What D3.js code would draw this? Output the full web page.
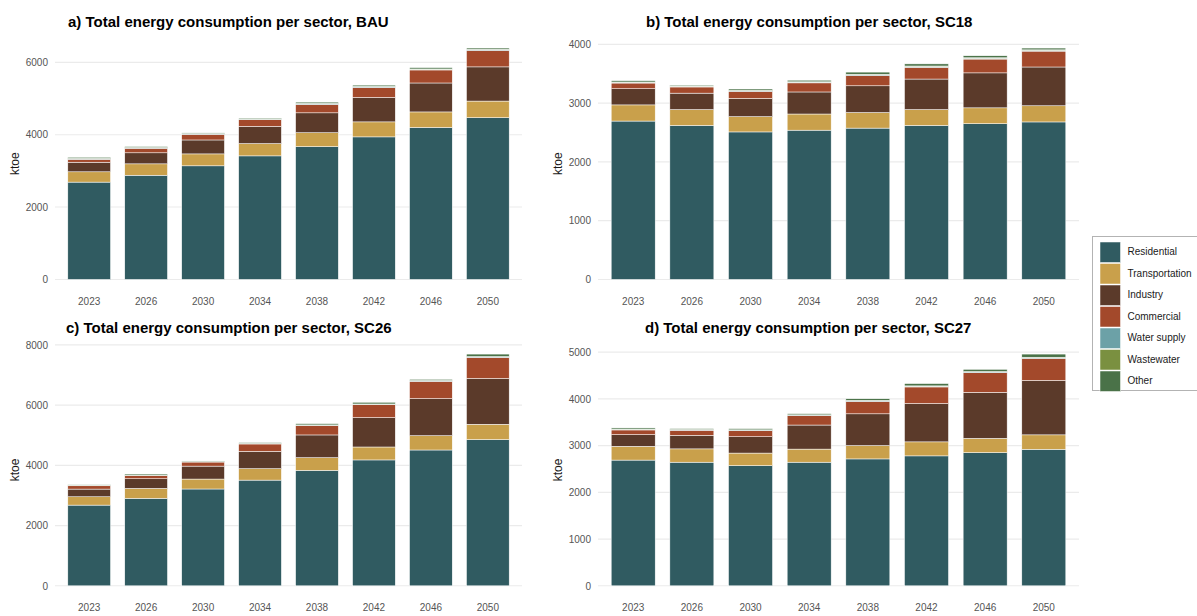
<!DOCTYPE html>
<html>
<head>
<meta charset="utf-8">
<script src="https://cdn.jsdelivr.net/npm/d3@7"></script>
<style>
  html, body { margin: 0; padding: 0; background: #ffffff; }
  svg { display: block; font-family: "Liberation Sans", Arial, sans-serif; }
</style>
</head>
<body>
<svg id="chart" width="1197" height="616"></svg>
<script>
// Years shown on every panel
const years = ["2023", "2026", "2030", "2034", "2038", "2042", "2046", "2050"];
const sectors = ["Residential", "Transportation", "Industry", "Commercial", "Water supply", "Wastewater", "Other"];
const sectorColors = ["#305b61", "#c9a04b", "#5b3a2a", "#a3492b", "#6ca1a7", "#7a9040", "#4a7248"];

// a) BAU (ktoe)
const bauResidential    = [2690, 2880, 3140, 3415, 3670, 3940, 4200, 4470];
const bauTransportation = [285, 315, 330, 340, 385, 415, 430, 460];
const bauIndustry       = [265, 305, 385, 475, 550, 675, 800, 945];
const bauCommercial     = [80, 125, 155, 185, 230, 275, 360, 455];
const bauWaterSupply    = [15, 15, 15, 15, 18, 18, 18, 18];
const bauWastewater     = [8, 8, 8, 8, 10, 10, 10, 10];
const bauOther          = [32, 24, 17, 24, 37, 37, 37, 37];

// b) SC18 (ktoe)
const sc18Residential    = [2695, 2620, 2510, 2540, 2575, 2620, 2650, 2680];
const sc18Transportation = [275, 270, 260, 275, 265, 270, 270, 275];
const sc18Industry       = [275, 280, 310, 375, 455, 520, 595, 660];
const sc18Commercial     = [97, 105, 120, 155, 175, 200, 235, 270];
const sc18WaterSupply    = [12, 12, 12, 12, 14, 14, 14, 14];
const sc18Wastewater     = [6, 6, 6, 6, 8, 8, 8, 8];
const sc18Other          = [22, 15, 22, 27, 36, 36, 34, 30];

// c) SC26 (ktoe)
const sc26Residential    = [2680, 2905, 3215, 3510, 3835, 4180, 4510, 4855];
const sc26Transportation = [277, 330, 330, 380, 420, 430, 475, 510];
const sc26Industry       = [255, 320, 430, 575, 755, 975, 1230, 1520];
const sc26Commercial     = [110, 100, 135, 245, 310, 430, 575, 700];
const sc26WaterSupply    = [12, 12, 14, 14, 16, 16, 18, 18];
const sc26Wastewater     = [6, 6, 7, 7, 8, 8, 9, 9];
const sc26Other          = [15, 37, 14, 24, 41, 56, 38, 83];

// d) SC27 (ktoe)
const sc27Residential    = [2690, 2645, 2570, 2645, 2715, 2780, 2850, 2920];
const sc27Transportation = [295, 285, 270, 280, 285, 300, 305, 310];
const sc27Industry       = [250, 290, 350, 515, 680, 820, 985, 1165];
const sc27Commercial     = [100, 108, 130, 200, 265, 355, 420, 470];
const sc27WaterSupply    = [12, 12, 12, 13, 14, 15, 16, 17];
const sc27Wastewater     = [6, 6, 6, 6, 7, 8, 8, 9];
const sc27Other          = [25, 17, 25, 24, 36, 49, 48, 67];

// y-axis tick values per panel
const ticksA = [0, 2000, 4000, 6000];
const ticksB = [0, 1000, 2000, 3000, 4000];
const ticksC = [0, 2000, 4000, 6000, 8000];
const ticksD = [0, 1000, 2000, 3000, 4000, 5000];

const titles = [
  "a) Total energy consumption per sector, BAU",
  "b) Total energy consumption per sector, SC18",
  "c) Total energy consumption per sector, SC26",
  "d) Total energy consumption per sector, SC27"
];

function rows(series) {
  return years.map((y, i) => {
    const r = { year: y };
    sectors.forEach((s, k) => { r[s] = series[k][i]; });
    return r;
  });
}

const panels = [
  { title: titles[0], ticks: ticksA, x0: 55, x1: 522, y0: 291, y1: 36.5, titleX: 68, titleY: 26.5,
    data: rows([bauResidential, bauTransportation, bauIndustry, bauCommercial, bauWaterSupply, bauWastewater, bauOther]) },
  { title: titles[1], ticks: ticksB, x0: 598, x1: 1079, y0: 291, y1: 36.5, titleX: 646, titleY: 26.5,
    data: rows([sc18Residential, sc18Transportation, sc18Industry, sc18Commercial, sc18WaterSupply, sc18Wastewater, sc18Other]) },
  { title: titles[2], ticks: ticksC, x0: 55, x1: 522, y0: 597.4, y1: 342.5, titleX: 66, titleY: 332.5,
    data: rows([sc26Residential, sc26Transportation, sc26Industry, sc26Commercial, sc26WaterSupply, sc26Wastewater, sc26Other]) },
  { title: titles[3], ticks: ticksD, x0: 598, x1: 1079, y0: 597.4, y1: 342.5, titleX: 645, titleY: 332.5,
    data: rows([sc27Residential, sc27Transportation, sc27Industry, sc27Commercial, sc27WaterSupply, sc27Wastewater, sc27Other]) }
];

const svg = d3.select("#chart");
const color = d3.scaleOrdinal().domain(sectors).range(sectorColors);
const stack = d3.stack().keys(sectors);

panels.forEach(p => {
  const g = svg.append("g");
  const series = stack(p.data);
  const maxTotal = d3.max(series[series.length - 1], d => d[1]);

  const x = d3.scaleBand().domain(years).range([p.x0, p.x1])
    .paddingInner(0.25).paddingOuter(0.225);
  const y = d3.scaleLinear().domain([-0.05 * maxTotal, 1.05 * maxTotal]).range([p.y0, p.y1]);

  // horizontal grid
  g.append("g").selectAll("line").data(p.ticks).join("line")
    .attr("x1", p.x0).attr("x2", p.x1)
    .attr("y1", d => y(d)).attr("y2", d => y(d))
    .attr("stroke", "#ebebeb").attr("stroke-width", 1.1);

  // stacked bars
  g.append("g").selectAll("g").data(series).join("g")
    .attr("fill", d => color(d.key))
    .selectAll("rect").data(d => d).join("rect")
    .attr("x", d => x(d.data.year))
    .attr("width", x.bandwidth())
    .attr("y", d => y(d[1]))
    .attr("height", d => y(d[0]) - y(d[1]))
    .attr("stroke", "#ffffff").attr("stroke-width", 0.5);

  // axes
  const ay = g.append("g").attr("transform", `translate(${p.x0},0)`)
    .call(d3.axisLeft(y).tickValues(p.ticks).tickFormat(d3.format("d")).tickSize(0).tickPadding(7));
  const ax = g.append("g").attr("transform", `translate(0,${p.y0})`)
    .call(d3.axisBottom(x).tickSize(0).tickPadding(7));
  [ay, ax].forEach(a => {
    a.select(".domain").remove();
    a.selectAll("text").attr("fill", "#555555").attr("font-size", 10)
      .attr("font-family", "Liberation Sans, Arial, sans-serif");
  });

  // y-axis title
  g.append("text")
    .attr("transform", `translate(${p.x0 - 39},${(p.y0 + p.y1) / 2}) rotate(-90)`)
    .attr("text-anchor", "middle").attr("dominant-baseline", "middle")
    .attr("font-size", 12).attr("fill", "#1a1a1a").text("ktoe");

  // panel title
  g.append("text").attr("x", p.titleX).attr("y", p.titleY)
    .attr("font-size", 15).attr("font-weight", "bold").attr("fill", "#000000")
    .text(p.title);
});

// legend
const lg = svg.append("g");
lg.append("rect").attr("x", 1092.5).attr("y", 236.5).attr("width", 120).attr("height", 154)
  .attr("fill", "#ffffff").attr("stroke", "#b3b3b3").attr("stroke-width", 1);
const item = lg.selectAll("g.item").data(sectors).join("g").attr("class", "item")
  .attr("transform", (d, i) => `translate(1100,${242 + i * 21.5})`);
item.append("rect").attr("width", 20.5).attr("height", 20.5)
  .attr("fill", d => color(d)).attr("stroke", "#ffffff").attr("stroke-width", 0.5);
item.append("text").attr("x", 27.5).attr("y", 10.5).attr("dominant-baseline", "middle")
  .attr("font-size", 10).attr("fill", "#1a1a1a").text(d => d);
</script>
</body>
</html>
